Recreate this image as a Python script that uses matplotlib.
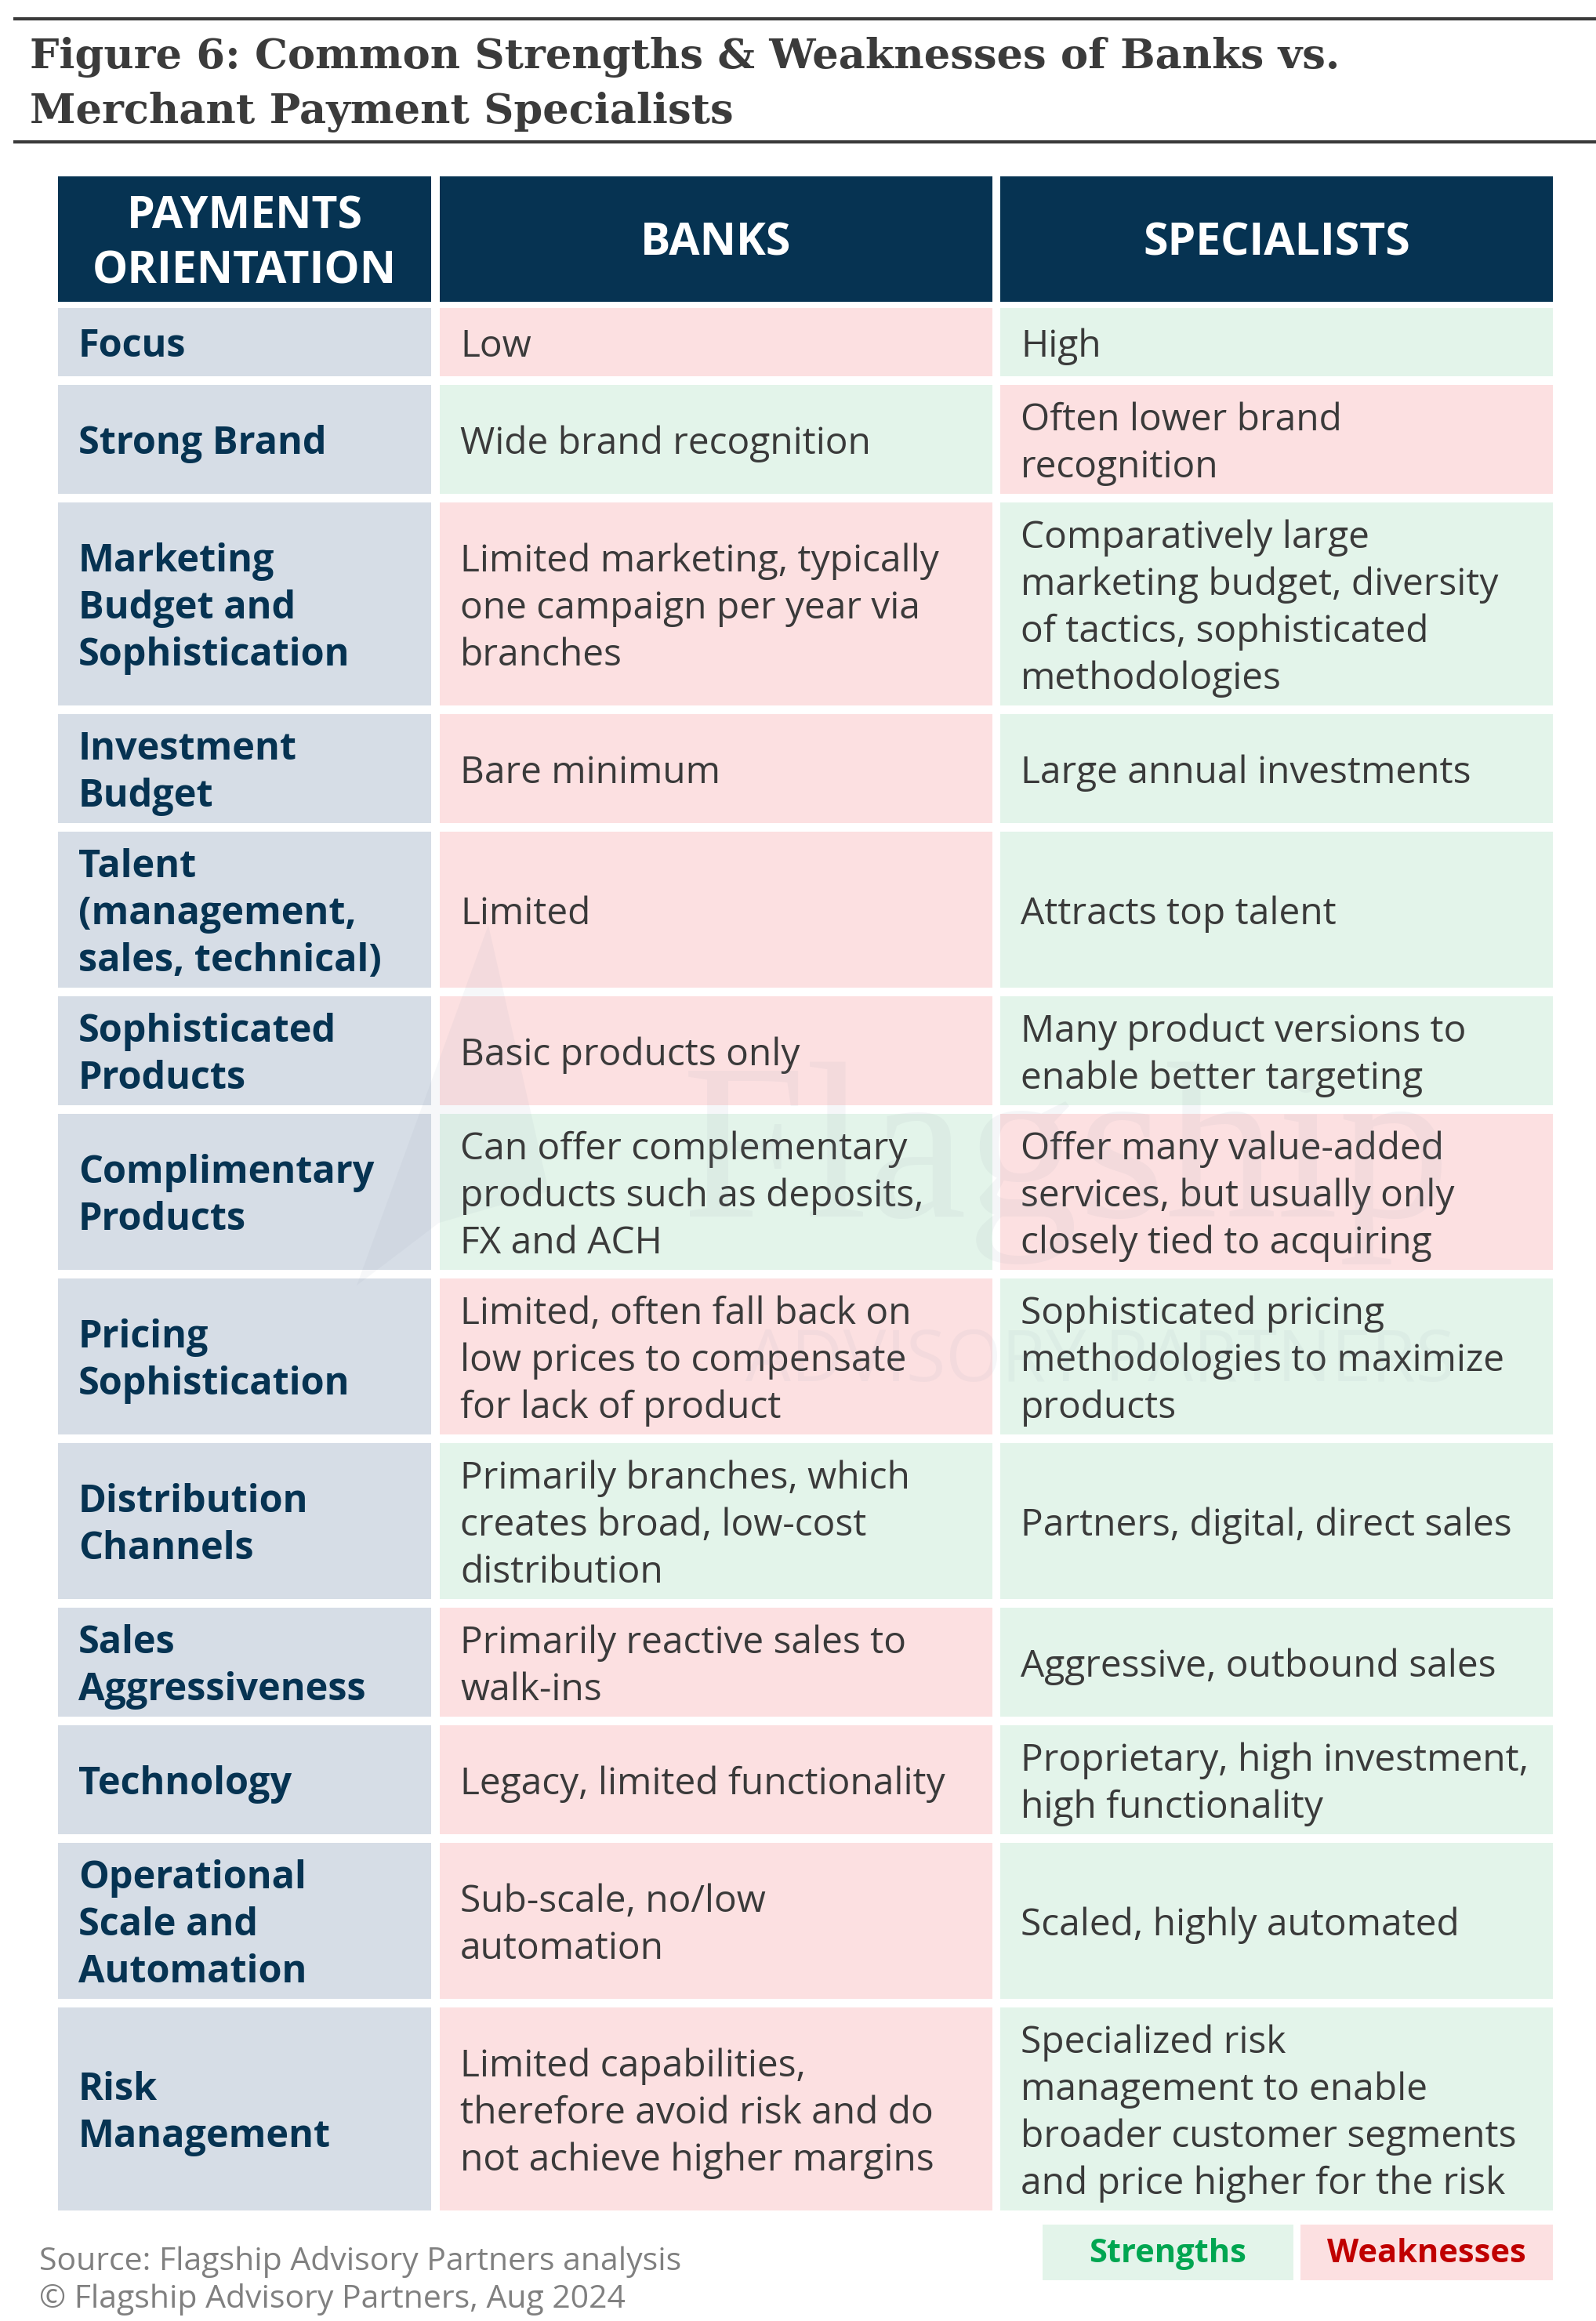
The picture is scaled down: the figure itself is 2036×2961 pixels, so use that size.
import matplotlib.pyplot as plt
from matplotlib.patches import Rectangle, Polygon

# ---- data ----
title = "Figure 6: Common Strengths & Weaknesses of Banks vs.\nMerchant Payment Specialists"
headers = ["PAYMENTS\nORIENTATION", "BANKS", "SPECIALISTS"]

labels = [
    "Focus",
    "Strong Brand",
    "Marketing\nBudget and\nSophistication",
    "Investment\nBudget",
    "Talent\n(management,\nsales, technical)",
    "Sophisticated\nProducts",
    "Complimentary\nProducts",
    "Pricing\nSophistication",
    "Distribution\nChannels",
    "Sales\nAggressiveness",
    "Technology",
    "Operational\nScale and\nAutomation",
    "Risk\nManagement",
]

banks = [
    "Low",
    "Wide brand recognition",
    "Limited marketing, typically\none campaign per year via\nbranches",
    "Bare minimum",
    "Limited",
    "Basic products only",
    "Can offer complementary\nproducts such as deposits,\nFX and ACH",
    "Limited, often fall back on\nlow prices to compensate\nfor lack of product",
    "Primarily branches, which\ncreates broad, low-cost\ndistribution",
    "Primarily reactive sales to\nwalk-ins",
    "Legacy, limited functionality",
    "Sub-scale, no/low\nautomation",
    "Limited capabilities,\ntherefore avoid risk and do\nnot achieve higher margins",
]

specialists = [
    "High",
    "Often lower brand\nrecognition",
    "Comparatively large\nmarketing budget, diversity\nof tactics, sophisticated\nmethodologies",
    "Large annual investments",
    "Attracts top talent",
    "Many product versions to\nenable better targeting",
    "Offer many value-added\nservices, but usually only\nclosely tied to acquiring",
    "Sophisticated pricing\nmethodologies to maximize\nproducts",
    "Partners, digital, direct sales",
    "Aggressive, outbound sales",
    "Proprietary, high investment,\nhigh functionality",
    "Scaled, highly automated",
    "Specialized risk\nmanagement to enable\nbroader customer segments\nand price higher for the risk",
]

# S = strength, W = weakness
banks_sw = ["W", "S", "W", "W", "W", "W", "S", "W", "S", "W", "W", "W", "W"]
spec_sw = ["S", "W", "S", "S", "S", "S", "W", "S", "S", "S", "S", "S", "S"]

source = "Source: Flagship Advisory Partners analysis\n\u00a9 Flagship Advisory Partners, Aug 2024"

# ---- style ----
NAVY = "#063352"
LABEL_BG = "#D6DDE6"
GREEN_BG = "#E3F4EA"
RED_BG = "#FCE0E1"
TXT = "#3a3a3a"
sw_color = {"S": GREEN_BG, "W": RED_BG}

W, H = 2036, 2961
fig = plt.figure(figsize=(W / 100, H / 100), dpi=100)
ax = fig.add_axes([0, 0, 1, 1])
ax.set_xlim(0, W)
ax.set_ylim(H, 0)
ax.axis("off")

SANS = ["Open Sans", "DejaVu Sans"]
LINE = 60  # px between text lines


def lines_text(x, yc, s, size, ha="left", **kw):
    parts = s.split("\n")
    n = len(parts)
    for i, p in enumerate(parts):
        y = yc + (i - (n - 1) / 2) * LINE
        ax.text(x, y + size * 1.389 * 0.38, p, ha=ha, va="baseline",
                fontsize=size, family=SANS, **kw)


# title and rules
ax.plot([17, W], [24, 24], color="#3a3a3a", lw=3, solid_capstyle="butt")
ax.plot([17, W], [181, 181], color="#3a3a3a", lw=3, solid_capstyle="butt")
for i, t in enumerate(title.split("\n")):
    ax.text(38, 87 + i * 70, t, fontsize=38, fontweight="bold",
            family="DejaVu Serif", color="#3b3b3b", va="baseline")

# columns
col_x = [74, 561, 1276]
col_w = [476, 705, 705]
pad = 26

# header
hy0, hy1 = 225, 385
for x, w, h in zip(col_x, col_w, headers):
    ax.add_patch(Rectangle((x, hy0), w, hy1 - hy0, color=NAVY, lw=0))
    parts = h.split("\n")
    for i, p in enumerate(parts):
        y = (hy0 + hy1) / 2 + (i - (len(parts) - 1) / 2) * 70
        ax.text(x + w / 2, y + 21, p, ha="center", va="baseline",
                fontsize=41, fontweight="bold", family=SANS, color="white")

# body rows
y = 393
gap = 11
for lab, b, s, bsw, ssw in zip(labels, banks, specialists, banks_sw, spec_sw):
    n = max(t.count("\n") + 1 for t in (lab, b, s))
    h = max(87, 19 + LINE * n)
    yc = y + h / 2
    ax.add_patch(Rectangle((col_x[0], y), col_w[0], h, color=LABEL_BG, lw=0))
    ax.add_patch(Rectangle((col_x[1], y), col_w[1], h, color=sw_color[bsw], lw=0))
    ax.add_patch(Rectangle((col_x[2], y), col_w[2], h, color=sw_color[ssw], lw=0))
    lines_text(col_x[0] + pad, yc, lab, 35, color=NAVY, fontweight="bold")
    lines_text(col_x[1] + pad, yc, b, 34.5, color=TXT)
    lines_text(col_x[2] + pad, yc, s, 34.5, color=TXT)
    y += h + gap

# faint watermark (logo)
ax.add_patch(Polygon([[623, 1180], [455, 1640], [560, 1560], [700, 1520]],
                     closed=True, color="#8a96aa", alpha=0.07, lw=0))
ax.text(1360, 1552, "Flagship", fontsize=205, family="Liberation Serif",
        color="#8a96aa", alpha=0.08, ha="center", va="baseline")
ax.text(1404, 1762, "ADVISORY PARTNERS", fontsize=66, family=SANS,
        color="#8a96aa", alpha=0.07, ha="center", va="baseline")

# legend
ax.add_patch(Rectangle((1330, 2838), 320, 71, color=GREEN_BG, lw=0))
ax.add_patch(Rectangle((1659, 2838), 322, 71, color=RED_BG, lw=0))
ax.text(1490, 2876, "Strengths", ha="center", va="center", fontsize=30,
        fontweight="bold", family=SANS, color="#00A651")
ax.text(1820, 2876, "Weaknesses", ha="center", va="center", fontsize=30,
        fontweight="bold", family=SANS, color="#C00000")

# footer
for i, t in enumerate(source.split("\n")):
    ax.text(50, 2886 + i * 47, t, fontsize=29.5, family=SANS,
            color="#808080", va="center")

fig.savefig("out.png", dpi=100)
